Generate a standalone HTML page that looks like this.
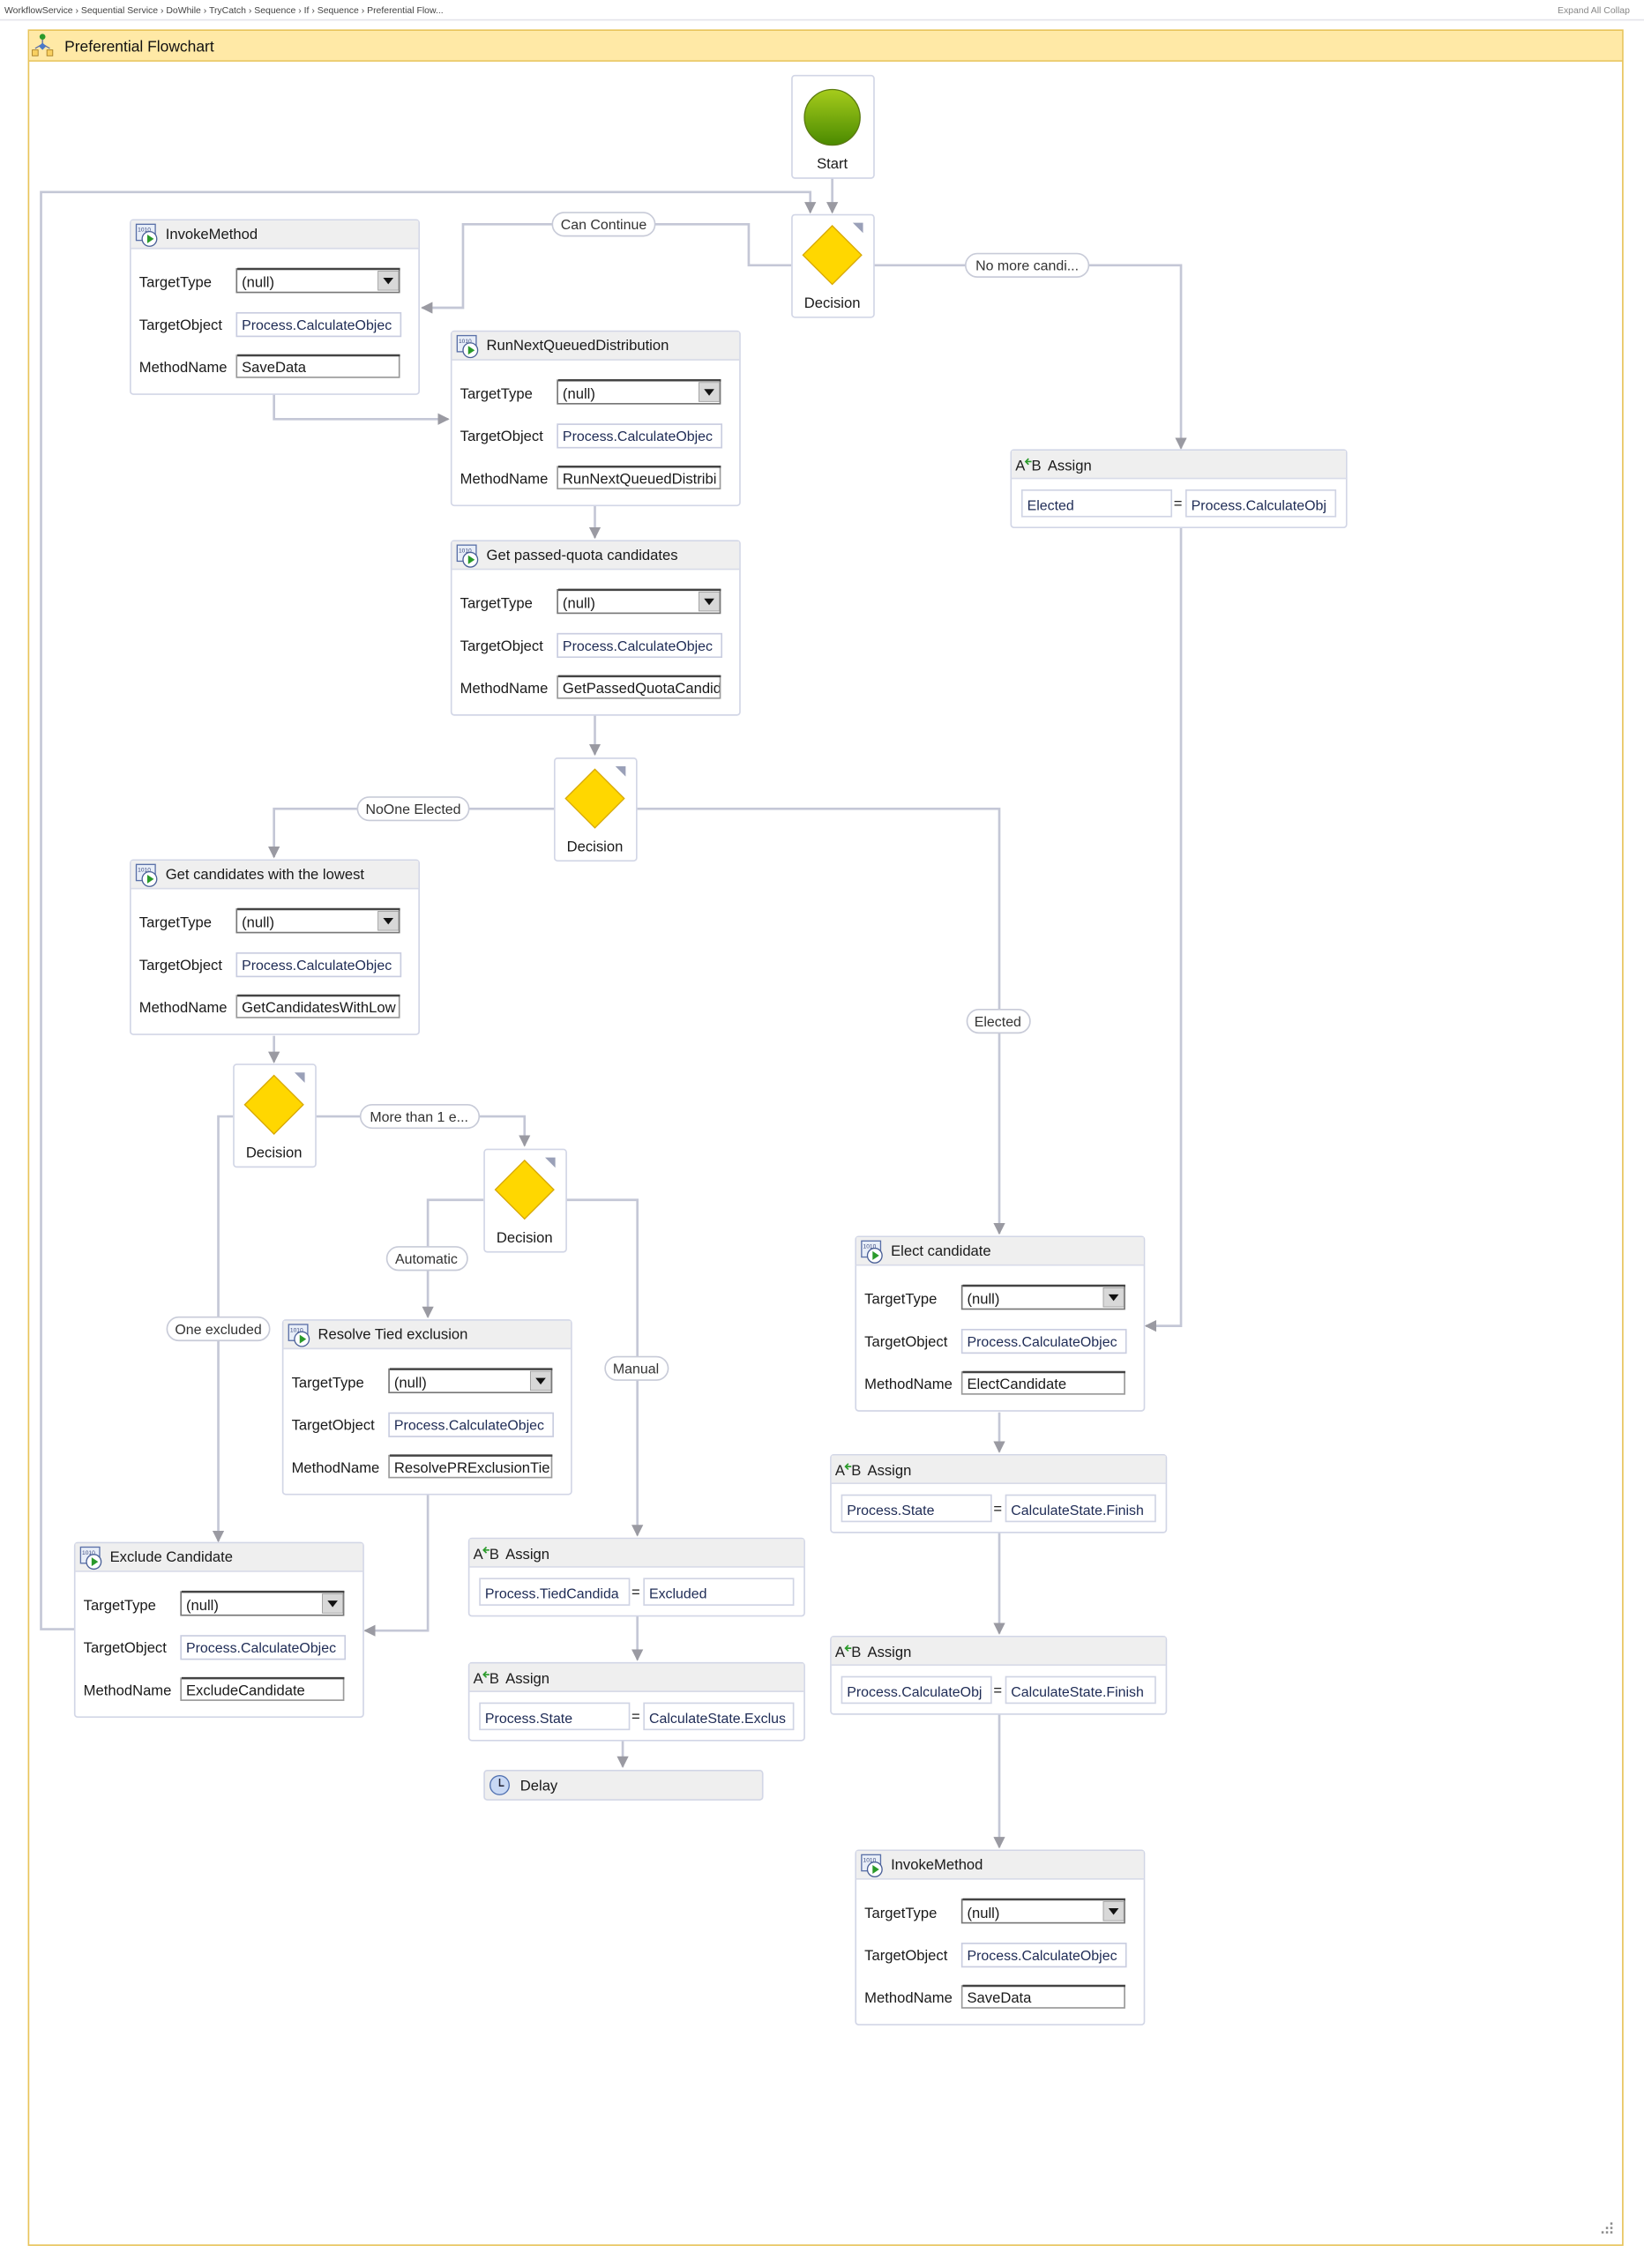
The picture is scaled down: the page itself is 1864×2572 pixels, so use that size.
<!DOCTYPE html>
<html><head><meta charset="utf-8"><style>
html,body{margin:0;padding:0;background:#fff;}
svg{display:block;font-family:"Liberation Sans",Arial,sans-serif;}
.t{font-size:10px;fill:#1a1a1a}
.v{font-size:9.6px;fill:#1e2b55}
.s{font-size:6.3px;fill:#444}
.lbl{font-size:9.6px;fill:#333}
</style></head><body>
<svg width="1864" height="2572" viewBox="0 0 1122 1548" xmlns="http://www.w3.org/2000/svg">
<defs>
<marker id="a" viewBox="0 0 10 10" refX="9" refY="5" markerWidth="5" markerHeight="5" orient="auto"><path d="M0,0L10,5L0,10z" fill="#9a9aa2"/></marker>
<clipPath id="cv"><rect x="73" y="0" width="110" height="119"/></clipPath>
<clipPath id="ca"><rect x="0" y="0" width="108" height="53"/><rect x="120" y="0" width="100" height="53"/></clipPath>
<g id="icon">
<rect x="0" y="0" width="13" height="11" fill="#e8eef8" stroke="#5a70a8" stroke-width="0.8"/>
<text x="1" y="5" style="font-size:4px;fill:#3a4a80">1010</text>
<circle cx="9" cy="10" r="5" fill="#fff" stroke="#4a6098" stroke-width="0.8"/>
<path d="M7.5,7L12,10L7.5,13z" fill="#2a9a2a"/>
</g>
<g id="ibox">
<rect x="0" y="0" width="197" height="119" rx="2" fill="#fff" stroke="#d2d6e6"/>
<rect x="0.5" y="0.5" width="196" height="19" fill="#efefef"/>
<line x1="0" y1="19.5" x2="197" y2="19.5" stroke="#d8dbe8"/>
<use href="#icon" x="4" y="3"/>
<rect x="72.5" y="33.5" width="111" height="16" fill="#fff" stroke="#777"/>
<line x1="73" y1="33.5" x2="184" y2="33.5" stroke="#444" stroke-width="1.5"/>
<rect x="169" y="35" width="14" height="13" fill="#d8d8d8" stroke="#999" stroke-width="0.5"/>
<path d="M172.5,39.5L179.5,39.5L176,44z" fill="#111"/>
<rect x="72.5" y="63.5" width="112" height="16" fill="#fff" stroke="#c9cde0"/>
<rect x="72.5" y="92.5" width="111" height="15" fill="#fff" stroke="#999"/>
<line x1="73" y1="92.5" x2="184" y2="92.5" stroke="#444" stroke-width="1.5"/>
</g>
<g id="abox">
<rect x="0" y="0" width="229" height="53" rx="2" fill="#fff" stroke="#d2d6e6"/>
<rect x="0.5" y="0.5" width="228" height="19" fill="#efefef"/>
<line x1="0" y1="19.5" x2="229" y2="19.5" stroke="#d8dbe8"/>
<text x="3" y="14" style="font-size:10px;fill:#222">A</text><path d="M14,8L10,8M12,6L10,8L12,10" stroke="#2a9a2a" fill="none" stroke-width="1"/><text x="14" y="14" style="font-size:10px;fill:#222">B</text>
<rect x="7.5" y="27.5" width="102" height="18" fill="#fff" stroke="#d0d4e4"/>
<rect x="119.5" y="27.5" width="102" height="18" fill="#fff" stroke="#d0d4e4"/>
<text x="111" y="40" style="font-size:10px;fill:#222">=</text>
</g>
<g id="dbox">
<rect x="0.5" y="0.5" width="56" height="70" rx="2" fill="#fff" stroke="#d2d6e6"/>
<path d="M28,8L48,28L28,48L8,28z" fill="#ffd700" stroke="#d8a800" stroke-width="0.8"/>
<path d="M42,6L49,6L49,13z" fill="#9aa0b8"/>
</g>
<linearGradient id="g" x1="0" y1="0" x2="0" y2="1"><stop offset="0" stop-color="#a6cc1c"/><stop offset="1" stop-color="#4a8a00"/></linearGradient>
</defs>

<text class="s" x="3" y="9">WorkflowService  ›  Sequential Service  ›  DoWhile  ›  TryCatch  ›  Sequence  ›  If  ›  Sequence  ›  Preferential Flow...</text>
<text class="s" x="1063" y="9" style="fill:#888">Expand All   Collap</text>
<line x1="0" y1="13.5" x2="1122" y2="13.5" stroke="#e4e4ea"/>

<rect x="19.5" y="20.5" width="1088" height="1512" fill="#fff" stroke="#e8c45a"/>
<rect x="20" y="21" width="1087" height="20" fill="#ffe9a6"/>
<line x1="19.5" y1="41.5" x2="1107.5" y2="41.5" stroke="#e8c45a"/>
<circle cx="29" cy="25" r="2" fill="#2a9a2a"/><path d="M29,27v3M24,33l5-3l5,3" stroke="#6070a0" fill="none" stroke-width="0.8"/><path d="M29,29l2.5,2.5l-2.5,2.5l-2.5-2.5z" fill="#4a78c8"/><rect x="22" y="34" width="4" height="4" fill="#f8d060" stroke="#a07820" stroke-width="0.5"/><rect x="32" y="34" width="4" height="4" fill="#f8d060" stroke="#a07820" stroke-width="0.5"/>
<text x="44" y="35" style="font-size:10.5px;fill:#111">Preferential Flowchart</text>
<g fill="#888"><rect x="1099" y="1517" width="1.5" height="1.5"/><rect x="1096" y="1520" width="1.5" height="1.5"/><rect x="1099" y="1520" width="1.5" height="1.5"/><rect x="1093" y="1523" width="1.5" height="1.5"/><rect x="1096" y="1523" width="1.5" height="1.5"/><rect x="1099" y="1523" width="1.5" height="1.5"/></g>

<g fill="none" stroke="#c4c7d6" stroke-width="1.6">
<path d="M568,121V145" marker-end="url(#a)"/>
<path d="M51,1112H28V131H553V145" marker-end="url(#a)"/>
<path d="M540,181H511V153H316V210H288" marker-end="url(#a)"/>
<path d="M596,181H806V306" marker-end="url(#a)"/>
<path d="M187,269V286H306" marker-end="url(#a)"/>
<path d="M406,345V367" marker-end="url(#a)"/>
<path d="M406,488V515" marker-end="url(#a)"/>
<path d="M378,552H187V585" marker-end="url(#a)"/>
<path d="M434,552H682V842" marker-end="url(#a)"/>
<path d="M187,707V725" marker-end="url(#a)"/>
<path d="M215,762H358V782" marker-end="url(#a)"/>
<path d="M159,762H149V1052" marker-end="url(#a)"/>
<path d="M330,819H292V899" marker-end="url(#a)"/>
<path d="M386,819H435V1048" marker-end="url(#a)"/>
<path d="M292,1020V1113H249" marker-end="url(#a)"/>
<path d="M435,1103V1133" marker-end="url(#a)"/>
<path d="M425,1188V1206" marker-end="url(#a)"/>
<path d="M806,360V905H782" marker-end="url(#a)"/>
<path d="M682,964V991" marker-end="url(#a)"/>
<path d="M682,1046V1115" marker-end="url(#a)"/>
<path d="M682,1170V1261" marker-end="url(#a)"/>
</g>

<g>
<rect x="377" y="145" width="70" height="16" rx="8" fill="#fff" stroke="#c8cbd8"/><text class="lbl" x="412" y="156.5" text-anchor="middle">Can Continue</text>
<rect x="659" y="173" width="84" height="16" rx="8" fill="#fff" stroke="#c8cbd8"/><text class="lbl" x="701" y="184.5" text-anchor="middle">No more candi...</text>
<rect x="244" y="544" width="76" height="16" rx="8" fill="#fff" stroke="#c8cbd8"/><text class="lbl" x="282" y="555.5" text-anchor="middle">NoOne Elected</text>
<rect x="660" y="689" width="43" height="16" rx="8" fill="#fff" stroke="#c8cbd8"/><text class="lbl" x="681" y="700.5" text-anchor="middle">Elected</text>
<rect x="246" y="754" width="81" height="16" rx="8" fill="#fff" stroke="#c8cbd8"/><text class="lbl" x="286" y="765.5" text-anchor="middle">More than 1 e...</text>
<rect x="114" y="899" width="70" height="16" rx="8" fill="#fff" stroke="#c8cbd8"/><text class="lbl" x="149" y="910.5" text-anchor="middle">One excluded</text>
<rect x="264" y="851" width="55" height="16" rx="8" fill="#fff" stroke="#c8cbd8"/><text class="lbl" x="291" y="862.5" text-anchor="middle">Automatic</text>
<rect x="413" y="926" width="43" height="16" rx="8" fill="#fff" stroke="#c8cbd8"/><text class="lbl" x="434" y="937.5" text-anchor="middle">Manual</text>
</g>

<rect x="540.5" y="51.5" width="56" height="70" rx="2" fill="#fff" stroke="#d2d6e6"/>
<circle cx="568" cy="80" r="19" fill="url(#g)" stroke="#5a7a10" stroke-width="0.8"/>
<text class="t" x="568" y="115" text-anchor="middle">Start</text>

<use href="#dbox" x="540" y="146"/><text class="t" x="568" y="210" text-anchor="middle">Decision</text>
<use href="#dbox" x="378" y="517"/><text class="t" x="406" y="581" text-anchor="middle">Decision</text>
<use href="#dbox" x="159" y="726"/><text class="t" x="187" y="790" text-anchor="middle">Decision</text>
<use href="#dbox" x="330" y="784"/><text class="t" x="358" y="848" text-anchor="middle">Decision</text>

<g transform="translate(89,150)"><use href="#ibox"/>
<text class="t" x="24" y="13">InvokeMethod</text>
<text class="t" x="6" y="46">TargetType</text><text class="t" x="6" y="75">TargetObject</text><text class="t" x="6" y="104">MethodName</text>
<g clip-path="url(#cv)"><text class="t" x="76" y="46">(null)</text><text class="v" x="76" y="75">Process.CalculateObjec</text><text class="t" x="76" y="104">SaveData</text></g></g>

<g transform="translate(308,226)"><use href="#ibox"/>
<text class="t" x="24" y="13">RunNextQueuedDistribution</text>
<text class="t" x="6" y="46">TargetType</text><text class="t" x="6" y="75">TargetObject</text><text class="t" x="6" y="104">MethodName</text>
<g clip-path="url(#cv)"><text class="t" x="76" y="46">(null)</text><text class="v" x="76" y="75">Process.CalculateObjec</text><text class="t" x="76" y="104">RunNextQueuedDistribi</text></g></g>

<g transform="translate(308,369)"><use href="#ibox"/>
<text class="t" x="24" y="13">Get passed-quota candidates</text>
<text class="t" x="6" y="46">TargetType</text><text class="t" x="6" y="75">TargetObject</text><text class="t" x="6" y="104">MethodName</text>
<g clip-path="url(#cv)"><text class="t" x="76" y="46">(null)</text><text class="v" x="76" y="75">Process.CalculateObjec</text><text class="t" x="76" y="104">GetPassedQuotaCandid</text></g></g>

<g transform="translate(89,587)"><use href="#ibox"/>
<text class="t" x="24" y="13">Get candidates with the lowest</text>
<text class="t" x="6" y="46">TargetType</text><text class="t" x="6" y="75">TargetObject</text><text class="t" x="6" y="104">MethodName</text>
<g clip-path="url(#cv)"><text class="t" x="76" y="46">(null)</text><text class="v" x="76" y="75">Process.CalculateObjec</text><text class="t" x="76" y="104">GetCandidatesWithLow</text></g></g>

<g transform="translate(193,901)"><use href="#ibox"/>
<text class="t" x="24" y="13">Resolve Tied exclusion</text>
<text class="t" x="6" y="46">TargetType</text><text class="t" x="6" y="75">TargetObject</text><text class="t" x="6" y="104">MethodName</text>
<g clip-path="url(#cv)"><text class="t" x="76" y="46">(null)</text><text class="v" x="76" y="75">Process.CalculateObjec</text><text class="t" x="76" y="104">ResolvePRExclusionTie</text></g></g>

<g transform="translate(51,1053)"><use href="#ibox"/>
<text class="t" x="24" y="13">Exclude Candidate</text>
<text class="t" x="6" y="46">TargetType</text><text class="t" x="6" y="75">TargetObject</text><text class="t" x="6" y="104">MethodName</text>
<g clip-path="url(#cv)"><text class="t" x="76" y="46">(null)</text><text class="v" x="76" y="75">Process.CalculateObjec</text><text class="t" x="76" y="104">ExcludeCandidate</text></g></g>

<g transform="translate(584,844)"><use href="#ibox"/>
<text class="t" x="24" y="13">Elect candidate</text>
<text class="t" x="6" y="46">TargetType</text><text class="t" x="6" y="75">TargetObject</text><text class="t" x="6" y="104">MethodName</text>
<g clip-path="url(#cv)"><text class="t" x="76" y="46">(null)</text><text class="v" x="76" y="75">Process.CalculateObjec</text><text class="t" x="76" y="104">ElectCandidate</text></g></g>

<g transform="translate(584,1263)"><use href="#ibox"/>
<text class="t" x="24" y="13">InvokeMethod</text>
<text class="t" x="6" y="46">TargetType</text><text class="t" x="6" y="75">TargetObject</text><text class="t" x="6" y="104">MethodName</text>
<g clip-path="url(#cv)"><text class="t" x="76" y="46">(null)</text><text class="v" x="76" y="75">Process.CalculateObjec</text><text class="t" x="76" y="104">SaveData</text></g></g>

<g transform="translate(690,307)"><use href="#abox"/><text class="t" x="25" y="14">Assign</text>
<g clip-path="url(#ca)"><text class="v" x="11" y="41">Elected</text><text class="v" x="123" y="41">Process.CalculateObj</text></g></g>
<g transform="translate(320,1050)"><use href="#abox"/><text class="t" x="25" y="14">Assign</text>
<g clip-path="url(#ca)"><text class="v" x="11" y="41">Process.TiedCandida</text><text class="v" x="123" y="41">Excluded</text></g></g>
<g transform="translate(320,1135)"><use href="#abox"/><text class="t" x="25" y="14">Assign</text>
<g clip-path="url(#ca)"><text class="v" x="11" y="41">Process.State</text><text class="v" x="123" y="41">CalculateState.Exclus</text></g></g>
<g transform="translate(567,993)"><use href="#abox"/><text class="t" x="25" y="14">Assign</text>
<g clip-path="url(#ca)"><text class="v" x="11" y="41">Process.State</text><text class="v" x="123" y="41">CalculateState.Finish</text></g></g>
<g transform="translate(567,1117)"><use href="#abox"/><text class="t" x="25" y="14">Assign</text>
<g clip-path="url(#ca)"><text class="v" x="11" y="41">Process.CalculateObj</text><text class="v" x="123" y="41">CalculateState.Finish</text></g></g>

<rect x="330.5" y="1208.5" width="190" height="20" rx="2" fill="#efefef" stroke="#d2d6e6"/>
<circle cx="341" cy="1218.5" r="6.5" fill="#c8d8f4" stroke="#5070b0" stroke-width="0.8"/>
<path d="M341,1214v5h3" stroke="#223" fill="none" stroke-width="0.9"/>
<text class="t" x="355" y="1222">Delay</text>
</svg>
</body></html>
